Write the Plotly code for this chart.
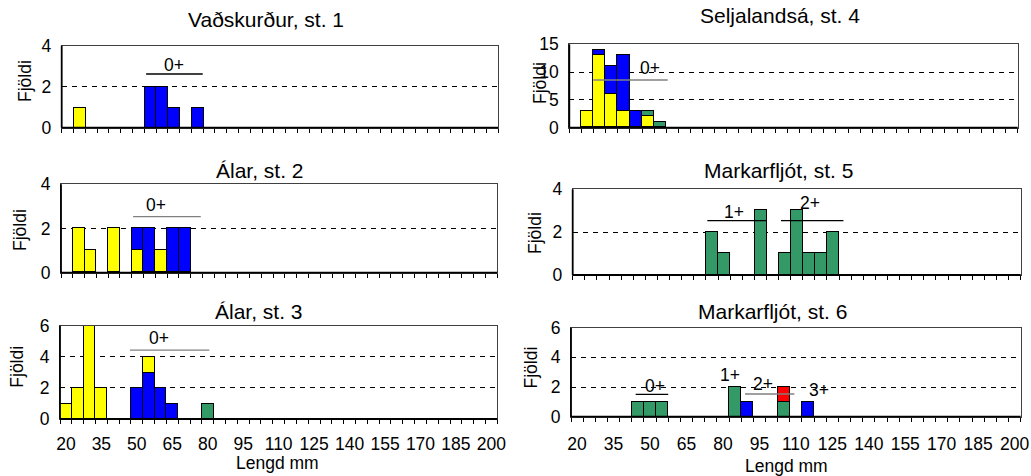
import plotly.graph_objects as go

# ---------------- data ----------------
BIN_WIDTH = 5
X_TICKS = [20, 35, 50, 65, 80, 95, 110, 125, 140, 155, 170, 185, 200]
X_TICK_LABELS = ["20", "35", "50", "65", "80", "95", "110", "125", "140", "155", "170", "185", "200"]

# Vaðskurður, st. 1
st1_yellow_len = [25]
st1_yellow_n = [1]
st1_blue_len = [55, 60, 65, 75]
st1_blue_n = [2, 2, 1, 1]

# Álar, st. 2
st2_yellow_len = [25, 30, 40, 50, 60]
st2_yellow_n = [2, 1, 2, 1, 1]
st2_blue_len = [50, 55, 65, 70]
st2_blue_n = [1, 2, 2, 2]

# Álar, st. 3
st3_blue_len = [50, 55, 60, 65]
st3_blue_n = [2, 3, 2, 1]
st3_yellow_len = [20, 25, 30, 35, 55]
st3_yellow_n = [1, 2, 6, 2, 1]
st3_green_len = [80]
st3_green_n = [1]

# Seljalandsá, st. 4
st4_yellow_len = [25, 30, 35, 40, 50]
st4_yellow_n = [3, 13, 6, 3, 2]
st4_blue_len = [30, 35, 40, 45]
st4_blue_n = [1, 5, 10, 3]
st4_green_len = [50, 55]
st4_green_n = [1, 1]

# Markarfljót, st. 5
st5_green_len = [75, 80, 95, 105, 110, 115, 120, 125]
st5_green_n = [2, 1, 3, 1, 3, 1, 1, 2]

# Markarfljót, st. 6
st6_green_len = [45, 50, 55, 85, 105]
st6_green_n = [1, 1, 1, 2, 1]
st6_blue_len = [90, 115]
st6_blue_n = [1, 1]
st6_red_len = [105]
st6_red_n = [1]

TITLES = ["Vaðskurður, st. 1", "Álar, st. 2", "Álar, st. 3",
          "Seljalandsá, st. 4", "Markarfljót, st. 5", "Markarfljót, st. 6"]
Y_MAX = [4, 4, 6, 15, 4, 6]
Y_TICKS = [[0, 2, 4], [0, 2, 4], [0, 2, 4, 6], [0, 5, 10, 15], [0, 2, 4], [0, 2, 4, 6]]
Y_TITLE = "Fjöldi"
X_TITLE = "Lengd mm"

# ---------------- styles / layout ----------------
W, H = 1031, 476
FONT = "Liberation Sans, Arial, sans-serif"
COL = {"yellow": "#FFFF00", "blue": "#0000FF", "green": "#339966", "red": "#FF0000"}
TICK_SIZE = 17.5
TITLE_SIZE = 21
LABEL_SIZE = 17.5

# pixel boxes of plot areas: (left, right, top, bottom)
BOXES = [
    (61.7, 498.0, 45.7, 127.7),
    (61.0, 497.0, 184.3, 272.7),
    (60.0, 497.3, 325.7, 419.0),
    (569.3, 1017.7, 44.3, 127.7),
    (572.7, 1020.7, 189.3, 275.0),
    (571.0, 1020.7, 327.7, 416.7),
]
TITLE_POS = [(266, 20), (260, 170.7), (259, 311.5), (780, 15), (778, 170.7), (772, 311)]
YTITLE_POS = [(25, 81), (20, 230), (17, 366.7), (540, 83), (535, 233), (530, 367.5)]
XTITLE_POS = [(277, 463), (786, 466)]
XLABEL_STANDOFF = [0, 0, 9, 0, 0, 11]

panels = [
    [("yellow", st1_yellow_len, st1_yellow_n), ("blue", st1_blue_len, st1_blue_n)],
    [("yellow", st2_yellow_len, st2_yellow_n), ("blue", st2_blue_len, st2_blue_n)],
    [("blue", st3_blue_len, st3_blue_n), ("yellow", st3_yellow_len, st3_yellow_n),
     ("green", st3_green_len, st3_green_n)],
    [("yellow", st4_yellow_len, st4_yellow_n), ("blue", st4_blue_len, st4_blue_n),
     ("green", st4_green_len, st4_green_n)],
    [("green", st5_green_len, st5_green_n)],
    [("green", st6_green_len, st6_green_n), ("blue", st6_blue_len, st6_blue_n),
     ("red", st6_red_len, st6_red_n)],
]

# age-group markers: (panel, label, line x0, line x1, line y, text x, text y, line colour)
AGE_LINES = [
    (0, "0+", 53.3, 77.3, 2.62, 65.3, 3.06, "#000000"),
    (1, "0+", 48.1, 76.8, 2.54, 58.0, 3.06, "#808080"),
    (2, "0+", 47.1, 80.7, 4.43, 59.5, 5.18, "#808080"),
    (3, "0+", 27.4, 58.1, 8.58, 50.8, 10.68, "#808080"),
    (4, "1+", 73.1, 97.6, 2.54, 83.9, 2.96, "#000000"),
    (4, "2+", 103.5, 129.3, 2.54, 115.5, 3.35, "#000000"),
    (5, "0+", 44.1, 57.5, 1.51, 52.1, 2.09, "#000000"),
    (5, "2+", 89.1, 109.4, 1.53, 96.6, 2.18, "#808080"),
]
AGE_TEXT_ONLY = [
    (5, "1+", 82.9, 2.81),
    (5, "3+", 119.5, 1.80),
]

fig = go.Figure()
layout = dict(
    width=W, height=H, margin=dict(l=0, r=0, t=0, b=0, pad=0), autosize=False,
    paper_bgcolor="white", plot_bgcolor="white",
    barmode="stack", bargap=0, showlegend=False,
    font=dict(family=FONT, size=16, color="black"),
)
annotations = []
shapes = []

for i, series in enumerate(panels):
    sfx = "" if i == 0 else str(i + 1)
    xa, ya = "x" + sfx, "y" + sfx
    for color, xs, ns in series:
        fig.add_trace(go.Bar(
            x=xs, y=ns, width=BIN_WIDTH, xaxis=xa, yaxis=ya,
            marker=dict(color=COL[color], line=dict(color="black", width=1)),
            hoverinfo="x+y",
        ))
    l, r, t, b = BOXES[i]
    bottom_row = i in (2, 5)
    layout["xaxis" + sfx] = dict(
        domain=[l / W, r / W], anchor=ya, range=[17.5, 202.5], automargin=False,
        tickmode="array", tickvals=X_TICKS, ticktext=X_TICK_LABELS,
        showticklabels=bottom_row, ticks="", ticklabelstandoff=XLABEL_STANDOFF[i],
        tickfont=dict(size=TICK_SIZE),
        minor=dict(tick0=17.5, dtick=BIN_WIDTH, ticks="outside", ticklen=4,
                   tickcolor="black", tickwidth=1, showgrid=False),
        showline=True, linecolor="#404040", linewidth=1, mirror=True,
        showgrid=False, zeroline=False, fixedrange=True,
    )
    layout["yaxis" + sfx] = dict(
        domain=[1 - b / H, 1 - t / H], anchor=xa, range=[0, Y_MAX[i]], automargin=False,
        tickmode="array", tickvals=Y_TICKS[i], ticks="", ticklabelstandoff=6,
        tickfont=dict(size=TICK_SIZE),
        showline=True, linecolor="#404040", linewidth=1, mirror=True,
        showgrid=True, gridcolor="black", gridwidth=1, griddash="5px,5px",
        zeroline=False, fixedrange=True,
    )
    # heavier left and bottom axis lines
    shapes.append(dict(type="line", xref=xa + " domain", yref=ya + " domain",
                       x0=0, x1=0, y0=0, y1=1, line=dict(color="black", width=1.8), layer="above"))
    shapes.append(dict(type="line", xref=xa + " domain", yref=ya + " domain",
                       x0=0, x1=1, y0=0, y1=0, line=dict(color="black", width=1.8), layer="above"))

    tx, ty = TITLE_POS[i]
    annotations.append(dict(text=TITLES[i], x=tx / W, y=1 - ty / H, xref="paper", yref="paper",
                            xanchor="center", yanchor="middle", showarrow=False,
                            font=dict(size=TITLE_SIZE)))
    yx, yy = YTITLE_POS[i]
    annotations.append(dict(text=Y_TITLE, x=yx / W, y=1 - yy / H, xref="paper", yref="paper",
                            xanchor="center", yanchor="middle", textangle=-90, showarrow=False,
                            font=dict(size=LABEL_SIZE)))

for (xx, yy) in XTITLE_POS:
    annotations.append(dict(text=X_TITLE, x=xx / W, y=1 - yy / H, xref="paper", yref="paper",
                            xanchor="center", yanchor="middle", showarrow=False,
                            font=dict(size=LABEL_SIZE)))

for (p, lab, x0, x1, ly, tx, ty, lc) in AGE_LINES:
    sfx = "" if p == 0 else str(p + 1)
    shapes.append(dict(type="line", xref="x" + sfx, yref="y" + sfx, x0=x0, x1=x1, y0=ly, y1=ly,
                       line=dict(color=lc, width=1.3)))
    annotations.append(dict(text=lab, x=tx, y=ty, xref="x" + sfx, yref="y" + sfx,
                            xanchor="center", yanchor="middle", showarrow=False,
                            font=dict(size=LABEL_SIZE)))
for (p, lab, tx, ty) in AGE_TEXT_ONLY:
    sfx = "" if p == 0 else str(p + 1)
    annotations.append(dict(text=lab, x=tx, y=ty, xref="x" + sfx, yref="y" + sfx,
                            xanchor="center", yanchor="middle", showarrow=False,
                            font=dict(size=LABEL_SIZE)))

layout["annotations"] = annotations
layout["shapes"] = shapes
fig.update_layout(**layout)
fig.write_html("out.html", config={"displayModeBar": False},
               post_script="document.body.style.margin='0px';document.body.style.overflow='hidden';")
